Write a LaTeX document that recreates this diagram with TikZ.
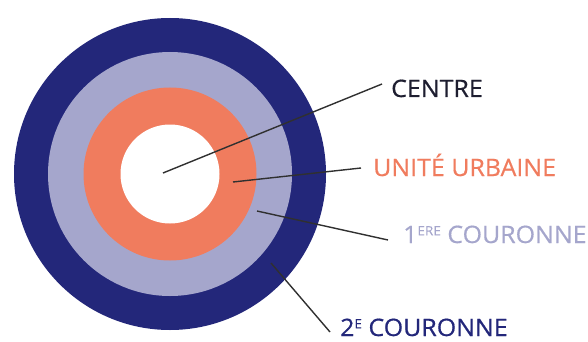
\documentclass[tikz,border=0pt]{standalone}
\usepackage{fontspec}
\setmainfont{Open Sans}
\newfontfamily\legendfont{Open Sans}[FakeBold=0.6, FakeStretch=1.04]
\usetikzlibrary{calc}
\definecolor{navy}{HTML}{23277A}
\definecolor{lavender}{HTML}{A5A6CC}
\definecolor{salmon}{HTML}{F07C5E}
\definecolor{inktext}{HTML}{1E1E30}
\definecolor{leadergray}{HTML}{303030}
\newcommand{\expo}[1]{\raisebox{7.6pt}{\fontsize{13}{13}\selectfont #1}}

\begin{document}
\begin{tikzpicture}[x=1pt, y=-1pt,
  ring/.style={circle, inner sep=0pt, draw=none},
  leader/.style={draw=leadergray, line width=1.4pt},
  legend/.style={anchor=base west, inner sep=0pt, font=\legendfont\fontsize{24}{28}\selectfont},
]
  \useasboundingbox (0,0) rectangle (588,342);
  \node[ring, fill=navy, minimum size=312pt]     (couronne2) at (170,174) {};
  \node[ring, fill=lavender, minimum size=244pt] (couronne1) at (170,174) {};
  \node[ring, fill=salmon, minimum size=173pt]   (unite)     at (170,174) {};
  \node[ring, fill=white, minimum size=99pt]     (centre)    at (170,174) {};

  \node[legend, text=inktext]  (lbl-centre) at (391,97)  {CENTRE};
  \node[legend, text=salmon]   (lbl-unite)  at (373,176) {UNITÉ URBAINE};
  \node[legend, text=lavender] (lbl-c1)     at (403,243) {1\expo{ERE} COURONNE};
  \node[legend, text=navy]     (lbl-c2)     at (340,336) {2\expo{E} COURONNE};

  \coordinate (pt-centre) at (163,173);
  \coordinate (pt-unite)  at (233,182);
  \coordinate (pt-c1)     at (257,211);
  \coordinate (pt-c2)     at (271,263);

  \draw[leader] (pt-centre) -- ($(lbl-centre.base west)+(-9,-13)$);
  \draw[leader] (pt-unite)  -- ($(lbl-unite.base west)+(-12,-8)$);
  \draw[leader] (pt-c1)     -- ($(lbl-c1.base west)+(-15,-3)$);
  \draw[leader] (pt-c2)     -- ($(lbl-c2.base west)+(-10,-4)$);
\end{tikzpicture}
\end{document}
